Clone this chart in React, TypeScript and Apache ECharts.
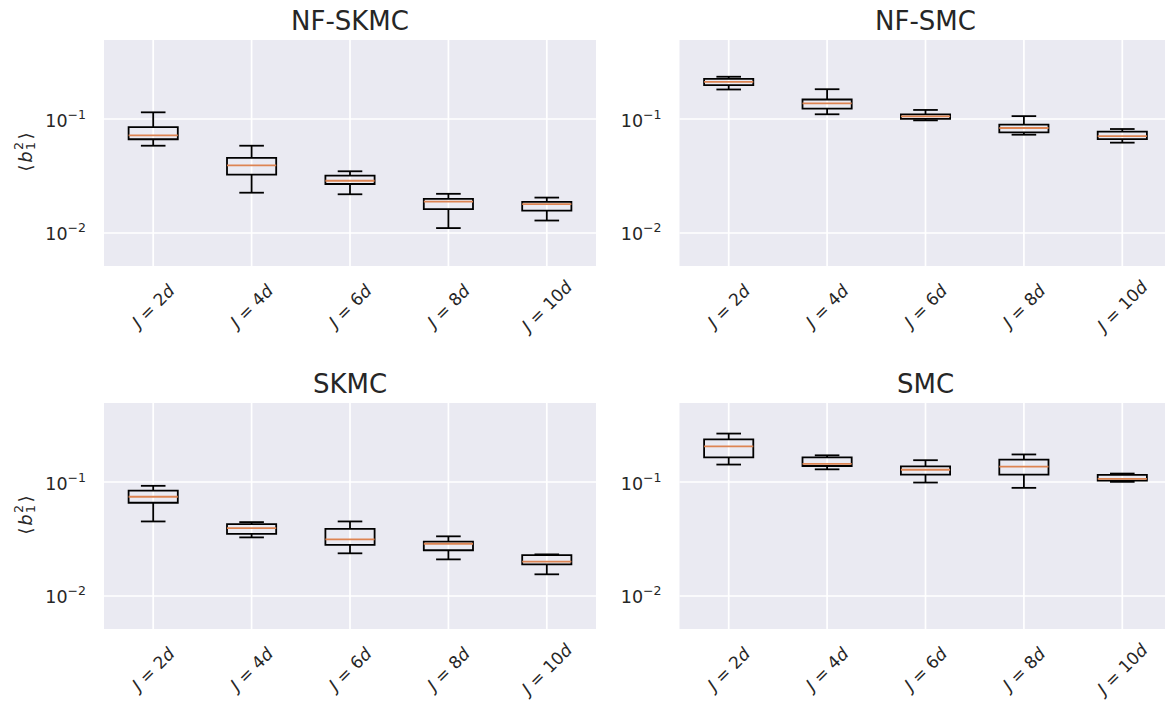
import React, { useEffect, useRef } from "react";
import * as echarts from "echarts";

// Categories on every panel's x axis
const categories = ["J = 2d", "J = 4d", "J = 6d", "J = 8d", "J = 10d"];

// Panel titles
const titles = ["NF-SKMC", "NF-SMC", "SKMC", "SMC"];

// Box statistics per category: [lower whisker, Q1, median, Q3, upper whisker]
const nfSkmc = [
  [0.0577, 0.0658, 0.0712, 0.0842, 0.1134],
  [0.0223, 0.0321, 0.0388, 0.0451, 0.0577],
  [0.0216, 0.0266, 0.0284, 0.0315, 0.0344],
  [0.0109, 0.016, 0.0186, 0.0197, 0.0218],
  [0.0127, 0.0155, 0.0177, 0.0185, 0.0202],
];

const nfSmc = [
  [0.18, 0.197, 0.21, 0.223, 0.233],
  [0.109, 0.122, 0.136, 0.147, 0.181],
  [0.0964, 0.0995, 0.1044, 0.109, 0.119],
  [0.0721, 0.0757, 0.0826, 0.0883, 0.105],
  [0.0614, 0.0658, 0.0702, 0.0766, 0.0809],
];

const skmc = [
  [0.0446, 0.0651, 0.0735, 0.0833, 0.0917],
  [0.0323, 0.0347, 0.0389, 0.0422, 0.044],
  [0.0234, 0.0278, 0.031, 0.0384, 0.0446],
  [0.0207, 0.0249, 0.0284, 0.0296, 0.033],
  [0.0153, 0.0187, 0.0198, 0.0226, 0.0229],
];

const smc = [
  [0.141, 0.163, 0.204, 0.235, 0.264],
  [0.128, 0.137, 0.143, 0.163, 0.17],
  [0.098, 0.115, 0.127, 0.136, 0.154],
  [0.088, 0.115, 0.135, 0.156, 0.173],
  [0.0994, 0.102, 0.1056, 0.1145, 0.1175],
];

const panelData = [nfSkmc, nfSmc, skmc, smc];

// Shared log-scale y limits
const yMin = 0.00506;
const yMax = 0.49;

const FONT = "DejaVu Sans";
const TEXT = "#262626";
const BG = "#EAEAF2";
const MEDIAN = "#DD8452";

const grids = [
  { left: 104, top: 40, width: 492, height: 226 },
  { left: 679.5, top: 40, width: 492, height: 226 },
  { left: 104, top: 403, width: 492, height: 226 },
  { left: 679.5, top: 403, width: 492, height: 226 },
];

function renderBox(params: any, api: any) {
  const i = api.value(0);
  const lo = api.coord([i, api.value(1)]);
  const q1 = api.coord([i, api.value(2)]);
  const med = api.coord([i, api.value(3)]);
  const q3 = api.coord([i, api.value(4)]);
  const hi = api.coord([i, api.value(5)]);
  const band = api.size([1, 0], [i, 0.1])[0];
  const half = band * 0.25;
  const cap = band * 0.125;
  const x = lo[0];
  const cs = params.coordSys;
  const stroke = { stroke: "#000", lineWidth: 1.8, fill: null };
  return {
    type: "group",
    children: [
      {
        type: "line",
        shape: { x1: x, y1: cs.y, x2: x, y2: cs.y + cs.height },
        style: { stroke: "#fff", lineWidth: 1.7 },
      },
      { type: "line", shape: { x1: x, y1: lo[1], x2: x, y2: q1[1] }, style: stroke },
      { type: "line", shape: { x1: x, y1: q3[1], x2: x, y2: hi[1] }, style: stroke },
      { type: "line", shape: { x1: x - cap, y1: lo[1], x2: x + cap, y2: lo[1] }, style: stroke },
      { type: "line", shape: { x1: x - cap, y1: hi[1], x2: x + cap, y2: hi[1] }, style: stroke },
      {
        type: "rect",
        shape: { x: x - half, y: q3[1], width: half * 2, height: q1[1] - q3[1] },
        style: { stroke: "#000", lineWidth: 1.8, fill: "rgba(0,0,0,0)" },
      },
      {
        type: "line",
        shape: { x1: x - half, y1: med[1], x2: x + half, y2: med[1] },
        style: { stroke: MEDIAN, lineWidth: 1.8 },
      },
    ],
  };
}

function yLabel(v: number) {
  const l = Math.log10(v);
  const r = Math.round(l);
  if (Math.abs(l - r) > 1e-6) return "";
  return `{b|10}{s|${r < 0 ? "\u2212" : ""}${Math.abs(r)}}`;
}

function yAxisName(cx: number, cy: number) {
  const base = { fontFamily: FONT, fill: TEXT, textAlign: "center", textVerticalAlign: "middle" };
  return {
    type: "group",
    x: cx,
    y: cy,
    rotation: Math.PI / 2,
    children: [
      { type: "text", x: -15, y: 0, style: { ...base, text: "\u27E8", fontSize: 18 } },
      { type: "text", x: -4, y: 0, style: { ...base, text: "b", fontSize: 18, fontStyle: "italic" } },
      { type: "text", x: 7, y: -7, style: { ...base, text: "2", fontSize: 12.5 } },
      { type: "text", x: 7, y: 5, style: { ...base, text: "1", fontSize: 12.5 } },
      { type: "text", x: 17, y: 0, style: { ...base, text: "\u27E9", fontSize: 18 } },
    ],
  };
}

export default function App() {
  const ref = useRef<HTMLDivElement>(null);

  useEffect(() => {
    if (!ref.current) return;
    const chart = echarts.init(ref.current, undefined, { renderer: "svg" });

    const option: any = {
      animation: false,
      backgroundColor: "#fff",
      textStyle: { fontFamily: FONT, color: TEXT },
      grid: grids.map((g) => ({
        ...g,
        show: true,
        backgroundColor: BG,
        borderWidth: 0,
        containLabel: false,
        outerBoundsMode: "none",
      })),
      xAxis: grids.map((_, k) => ({
        type: "category",
        gridIndex: k,
        data: categories,
        boundaryGap: true,
        axisLine: { show: false },
        axisTick: { show: false },
        splitLine: { show: false },
        axisLabel: {
          interval: 0,
          rotate: 45,
          align: "center",
          verticalAlign: "middle",
          margin: 40,
          fontSize: 17,
          fontFamily: FONT,
          color: TEXT,
          hideOverlap: false,
          formatter: (v: string) => v.replace(/^J = (\d+)d$/, "{i|J} = $1{i|d}"),
          rich: {
            i: { fontStyle: "italic", fontSize: 17, fontFamily: FONT, color: TEXT },
          },
        },
      })),
      yAxis: grids.map((_, k) => ({
        type: "log",
        logBase: 10,
        gridIndex: k,
        min: yMin,
        max: yMax,
        axisLine: { show: false },
        axisTick: { show: false },
        minorTick: { show: false },
        splitLine: {
          show: true,
          showMinLine: false,
          showMaxLine: false,
          lineStyle: { color: "#fff", width: 1.7 },
        },
        axisLabel: {
          margin: 18,
          showMinLabel: false,
          showMaxLabel: false,
          formatter: yLabel,
          rich: {
            b: { fontSize: 17.5, fontFamily: FONT, color: TEXT, lineHeight: 22, verticalAlign: "bottom" },
            s: { fontSize: 12.5, fontFamily: FONT, color: TEXT, lineHeight: 14, verticalAlign: "top" },
          },
        },
      })),
      series: panelData.map((rows, k) => ({
        type: "custom",
        xAxisIndex: k,
        yAxisIndex: k,
        renderItem: renderBox,
        encode: { x: 0, y: [1, 2, 3, 4, 5] },
        data: rows.map((r, i) => [i, ...r]),
        clip: false,
      })),
      graphic: [
        ...titles.map((t, k) => ({
          type: "text",
          x: grids[k].left + grids[k].width / 2,
          y: grids[k].top - 19,
          style: {
            text: t,
            fontSize: 26,
            fontFamily: FONT,
            fill: TEXT,
            textAlign: "center",
            textVerticalAlign: "middle",
          },
        })),
        yAxisName(25, 153),
        yAxisName(25, 516),
      ],
    };

    chart.setOption(option);
    return () => chart.dispose();
  }, []);

  return (
    <div
      ref={ref}
      style={{ position: "absolute", left: 0, top: 0, width: 1165, height: 706 }}
    />
  );
}
